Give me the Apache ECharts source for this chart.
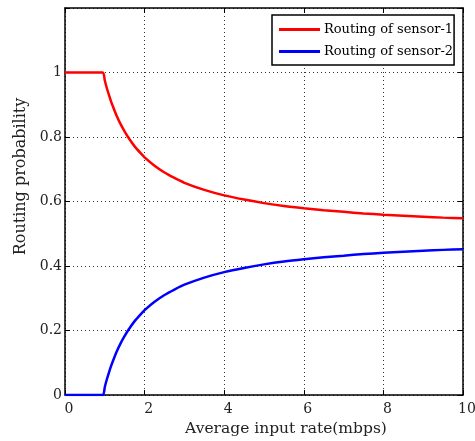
<!DOCTYPE html>
<html>
<head>
<meta charset="utf-8">
<script src="https://cdn.jsdelivr.net/npm/echarts@6/dist/echarts.min.js"></script>
<style>html,body{margin:0;padding:0;background:#fff}#c{width:475px;height:441px}</style>
</head>
<body>
<div id="c"></div>
<script>
const xValues = [0, 0.95, 1.0, 1.05, 1.1, 1.15, 1.2, 1.3, 1.4, 1.5, 1.6, 1.75, 1.9, 2, 2.25, 2.5, 2.75, 3, 3.5, 4, 4.5, 5, 5.5, 6, 6.5, 7, 7.5, 8, 8.5, 9, 9.5, 10];
const sensor1 = [1, 1, 0.975, 0.952, 0.932, 0.913, 0.896, 0.865, 0.839, 0.817, 0.797, 0.771, 0.75, 0.737, 0.711, 0.69, 0.673, 0.658, 0.636, 0.619, 0.606, 0.595, 0.586, 0.579, 0.573, 0.568, 0.563, 0.559, 0.556, 0.553, 0.55, 0.548];
const sensor2 = [0, 0, 0.025, 0.048, 0.068, 0.087, 0.104, 0.135, 0.161, 0.183, 0.203, 0.229, 0.25, 0.263, 0.289, 0.31, 0.327, 0.342, 0.364, 0.381, 0.394, 0.405, 0.414, 0.421, 0.427, 0.432, 0.437, 0.441, 0.444, 0.447, 0.45, 0.452];
const seriesNames = ['Routing of sensor-1', 'Routing of sensor-2'];
const xTitle = 'Average input rate(mbps)';
const yTitle = 'Routing probability';

const FONT = 'DejaVu Serif';
const chart = echarts.init(document.getElementById('c'), null, {renderer: 'canvas'});
const tickCommon = {show: true, inside: true, length: 5, lineStyle: {color: '#000', width: 1}};
const lineCommon = {show: true, onZero: false, lineStyle: {color: '#000', width: 1.5}};
const split = {show: true, lineStyle: {color: '#333', width: 1, type: [1, 3]}};
chart.setOption({
  animation: false,
  backgroundColor: '#fff',
  grid: {left: 65, right: 12, top: 8, bottom: 46, outerBoundsMode: 'none', containLabel: false},
  legend: {
    left: 272, top: 15, orient: 'vertical',
    backgroundColor: '#fff', borderColor: '#000', borderWidth: 1.5, borderRadius: 0,
    padding: [8, 1, 7, 7], itemGap: 9, itemWidth: 41, itemHeight: 3, icon: 'rect',
    textStyle: {fontFamily: FONT, fontSize: 13, color: '#000', padding: [0, 0, 0, -1]},
    data: seriesNames
  },
  xAxis: [{
    type: 'value', min: 0, max: 10, interval: 2, position: 'bottom',
    axisLine: lineCommon, axisTick: tickCommon, splitLine: split,
    axisLabel: {fontFamily: FONT, fontSize: 14, color: '#222', margin: 7, padding: [0, 0, 0, 8]},
    name: xTitle, nameLocation: 'middle', nameGap: 25,
    nameTextStyle: {fontFamily: FONT, fontSize: 15.5, color: '#222', padding: [0, 0, 0, 44]}
  }, {
    type: 'value', min: 0, max: 10, interval: 2, position: 'top',
    axisLine: lineCommon, axisTick: tickCommon, splitLine: {show: false}, axisLabel: {show: false}
  }],
  yAxis: [{
    type: 'value', min: 0, max: 1.2, interval: 0.2, position: 'left',
    axisLine: lineCommon, axisTick: tickCommon, splitLine: split,
    axisLabel: {fontFamily: FONT, fontSize: 14, color: '#222', margin: 3,
      formatter: v => (Math.abs(v - 1.2) < 1e-6 ? '' : String(Math.round(v * 10) / 10))},
    name: yTitle, nameLocation: 'middle', nameGap: 36,
    nameTextStyle: {fontFamily: FONT, fontSize: 16, color: '#222', padding: [0, 0, 0, 50]}
  }, {
    type: 'value', min: 0, max: 1.2, interval: 0.2, position: 'right',
    axisLine: lineCommon, axisTick: tickCommon, splitLine: {show: false}, axisLabel: {show: false}
  }],
  series: [
    {name: seriesNames[0], type: 'line', showSymbol: false, symbol: 'none', color: '#ff0000', smooth: 0.2,
     lineStyle: {width: 2.5, color: '#ff0000'}, data: xValues.map((x, i) => [x, sensor1[i]])},
    {name: seriesNames[1], type: 'line', showSymbol: false, symbol: 'none', color: '#0000ff', smooth: 0.2,
     lineStyle: {width: 2.5, color: '#0000ff'}, data: xValues.map((x, i) => [x, sensor2[i]])}
  ]
});
</script>
</body>
</html>
